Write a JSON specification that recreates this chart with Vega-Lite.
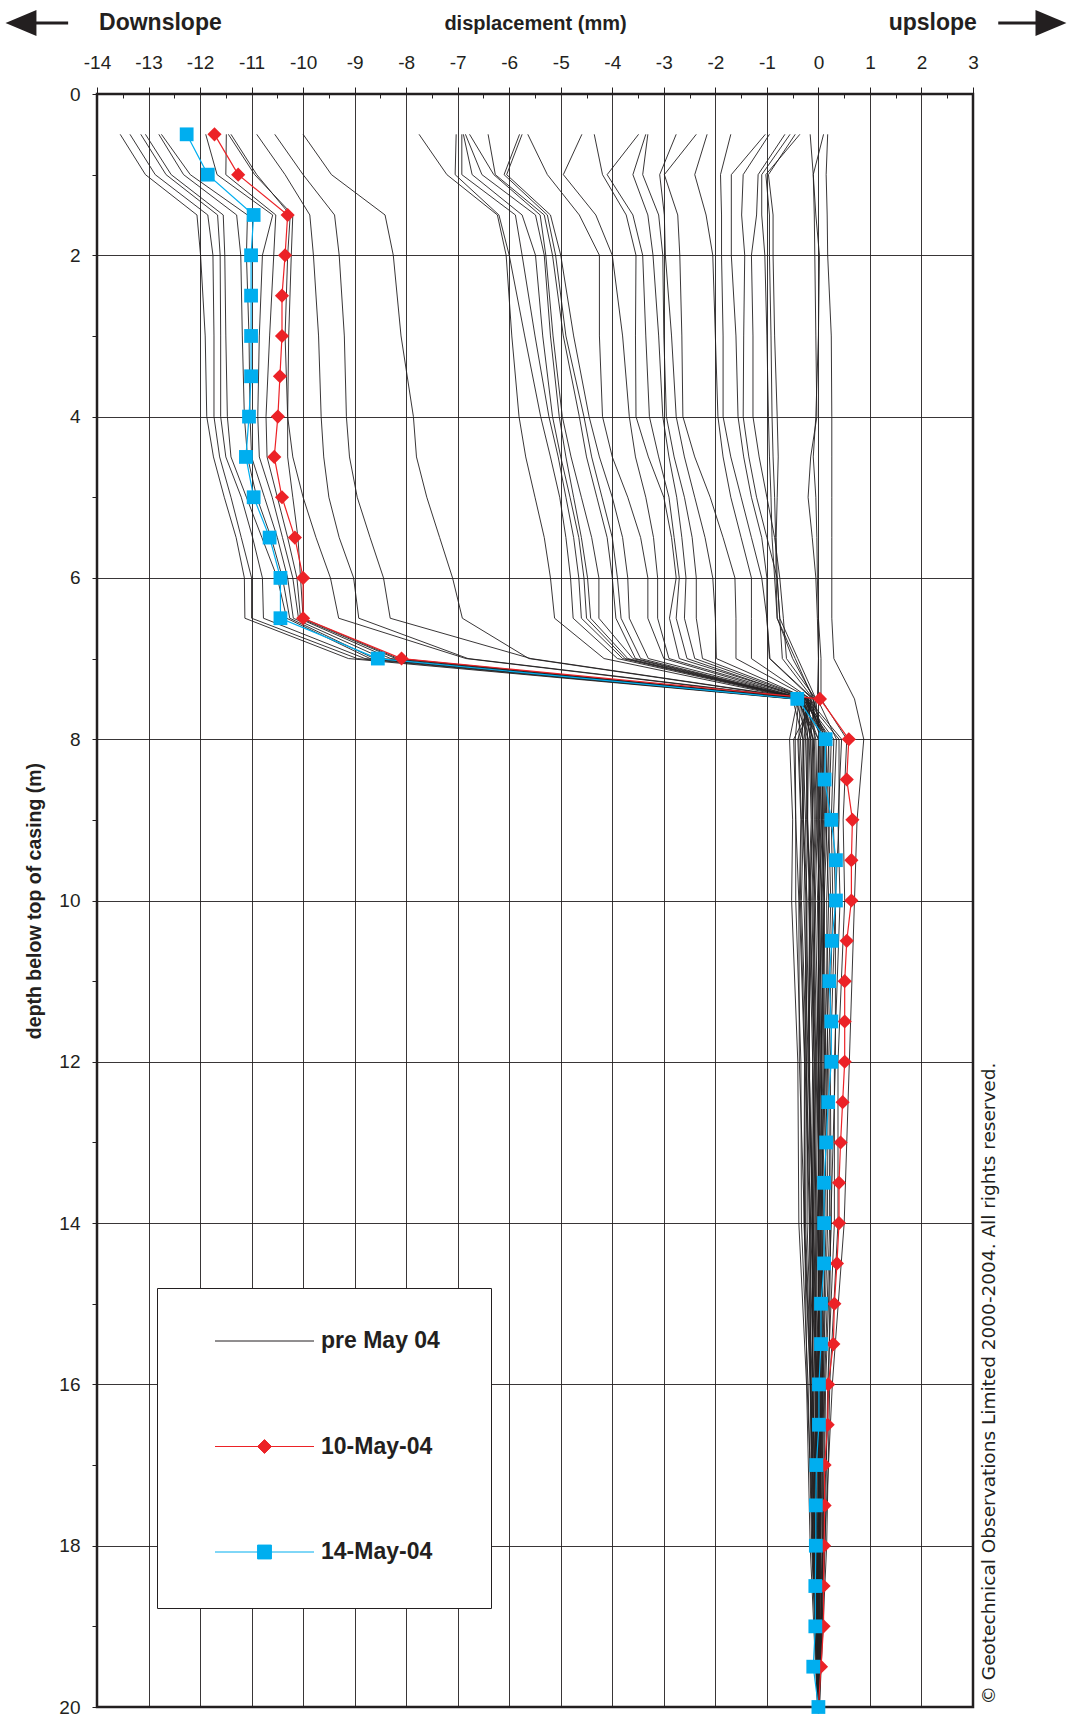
{
  "$schema": "https://vega.github.io/schema/vega-lite/v6.json",
  "width": 876,
  "height": 1613,
  "autosize": {"type": "none"},
  "padding": {"left": 97, "top": 94, "right": 97, "bottom": 10},
  "background": "white",
  "config": {
    "view": {"stroke": "#231f20", "strokeWidth": 2.5},
    "font": "Liberation Sans",
    "legend": {
      "padding": 3,
      "fillColor": "#ffffff", "strokeColor": "#231f20",
      "symbolSize": 9801, "symbolStrokeWidth": 1, "symbolOffset": 54.5, "symbolOpacity": 1,
      "labelOffset": 6.5, "rowPadding": 2.5,
      "labelFont": "Liberation Sans", "labelFontSize": 23, "labelFontWeight": "bold", "labelColor": "#231f20", "labelLimit": 300
    }
  },
  "datasets": {
    "pre": [
      {"run":1,"depth":0.5,"mm":-13.55},{"run":1,"depth":1,"mm":-13.06},{"run":1,"depth":1.5,"mm":-12.06},{"run":1,"depth":2,"mm":-11.99},{"run":1,"depth":3,"mm":-11.9},{"run":1,"depth":4,"mm":-11.87},{"run":1,"depth":4.5,"mm":-11.74},{"run":1,"depth":5,"mm":-11.53},{"run":1,"depth":5.5,"mm":-11.3},{"run":1,"depth":6,"mm":-11.14},{"run":1,"depth":6.5,"mm":-11.13},{"run":1,"depth":7,"mm":-9.12},{"run":1,"depth":7.5,"mm":-0.5},{"run":1,"depth":8,"mm":-0.3},{"run":1,"depth":9,"mm":-0.25},{"run":1,"depth":10,"mm":-0.28},{"run":1,"depth":12,"mm":-0.2},{"run":1,"depth":14,"mm":-0.22},{"run":1,"depth":16,"mm":-0.12},{"run":1,"depth":18,"mm":-0.09},{"run":1,"depth":20,"mm":-0.01},
      {"run":2,"depth":0.5,"mm":-13.36},{"run":2,"depth":1,"mm":-12.87},{"run":2,"depth":1.5,"mm":-11.85},{"run":2,"depth":2,"mm":-11.75},{"run":2,"depth":3,"mm":-11.73},{"run":2,"depth":4,"mm":-11.73},{"run":2,"depth":4.5,"mm":-11.62},{"run":2,"depth":5,"mm":-11.4},{"run":2,"depth":5.5,"mm":-11.2},{"run":2,"depth":6,"mm":-11.0},{"run":2,"depth":6.5,"mm":-11.0},{"run":2,"depth":7,"mm":-8.95},{"run":2,"depth":7.5,"mm":-0.45},{"run":2,"depth":8,"mm":-0.2},{"run":2,"depth":9,"mm":-0.21},{"run":2,"depth":10,"mm":-0.16},{"run":2,"depth":12,"mm":-0.18},{"run":2,"depth":14,"mm":-0.11},{"run":2,"depth":16,"mm":-0.11},{"run":2,"depth":18,"mm":-0.04},{"run":2,"depth":20,"mm":-0.01},
      {"run":3,"depth":0.5,"mm":-13.15},{"run":3,"depth":1,"mm":-12.66},{"run":3,"depth":1.5,"mm":-11.66},{"run":3,"depth":2,"mm":-11.61},{"run":3,"depth":3,"mm":-11.6},{"run":3,"depth":4,"mm":-11.6},{"run":3,"depth":4.5,"mm":-11.5},{"run":3,"depth":5,"mm":-11.2},{"run":3,"depth":5.5,"mm":-10.98},{"run":3,"depth":6,"mm":-10.79},{"run":3,"depth":6.5,"mm":-10.77},{"run":3,"depth":7,"mm":-8.8},{"run":3,"depth":7.5,"mm":-0.4},{"run":3,"depth":8,"mm":-0.1},{"run":3,"depth":9,"mm":-0.06},{"run":3,"depth":10,"mm":-0.11},{"run":3,"depth":12,"mm":-0.05},{"run":3,"depth":14,"mm":-0.09},{"run":3,"depth":16,"mm":-0.03},{"run":3,"depth":18,"mm":-0.04},{"run":3,"depth":20,"mm":0.0},
      {"run":4,"depth":0.5,"mm":-13.06},{"run":4,"depth":1,"mm":-12.56},{"run":4,"depth":1.5,"mm":-11.55},{"run":4,"depth":2,"mm":-11.52},{"run":4,"depth":3,"mm":-11.5},{"run":4,"depth":4,"mm":-11.47},{"run":4,"depth":4.5,"mm":-11.4},{"run":4,"depth":5,"mm":-11.1},{"run":4,"depth":5.5,"mm":-10.8},{"run":4,"depth":6,"mm":-10.5},{"run":4,"depth":6.5,"mm":-10.32},{"run":4,"depth":7,"mm":-8.7},{"run":4,"depth":7.5,"mm":-0.42},{"run":4,"depth":8,"mm":0.0},{"run":4,"depth":9,"mm":0.03},{"run":4,"depth":10,"mm":-0.02},{"run":4,"depth":12,"mm":0.03},{"run":4,"depth":14,"mm":-0.02},{"run":4,"depth":16,"mm":0.02},{"run":4,"depth":18,"mm":-0.01},{"run":4,"depth":20,"mm":0.0},
      {"run":5,"depth":0.5,"mm":-12.8},{"run":5,"depth":1,"mm":-12.32},{"run":5,"depth":1.5,"mm":-11.29},{"run":5,"depth":2,"mm":-11.21},{"run":5,"depth":3,"mm":-11.18},{"run":5,"depth":4,"mm":-11.14},{"run":5,"depth":4.5,"mm":-11.08},{"run":5,"depth":5,"mm":-10.9},{"run":5,"depth":5.5,"mm":-10.62},{"run":5,"depth":6,"mm":-10.4},{"run":5,"depth":6.5,"mm":-10.26},{"run":5,"depth":7,"mm":-8.62},{"run":5,"depth":7.5,"mm":-0.35},{"run":5,"depth":8,"mm":0.1},{"run":5,"depth":9,"mm":0.06},{"run":5,"depth":10,"mm":0.11},{"run":5,"depth":12,"mm":0.05},{"run":5,"depth":14,"mm":0.1},{"run":5,"depth":16,"mm":0.03},{"run":5,"depth":18,"mm":0.04},{"run":5,"depth":20,"mm":0.0},
      {"run":6,"depth":0.5,"mm":-12.75},{"run":6,"depth":1,"mm":-12.19},{"run":6,"depth":1.5,"mm":-11.08},{"run":6,"depth":2,"mm":-11.1},{"run":6,"depth":3,"mm":-11.05},{"run":6,"depth":4,"mm":-11.03},{"run":6,"depth":4.5,"mm":-11.0},{"run":6,"depth":5,"mm":-10.75},{"run":6,"depth":5.5,"mm":-10.5},{"run":6,"depth":6,"mm":-10.3},{"run":6,"depth":6.5,"mm":-10.19},{"run":6,"depth":7,"mm":-8.45},{"run":6,"depth":7.5,"mm":-0.3},{"run":6,"depth":8,"mm":0.2},{"run":6,"depth":9,"mm":0.21},{"run":6,"depth":10,"mm":0.16},{"run":6,"depth":12,"mm":0.18},{"run":6,"depth":14,"mm":0.11},{"run":6,"depth":16,"mm":0.11},{"run":6,"depth":18,"mm":0.04},{"run":6,"depth":20,"mm":0.01},
      {"run":7,"depth":0.5,"mm":-11.89},{"run":7,"depth":1,"mm":-11.67},{"run":7,"depth":1.5,"mm":-10.59},{"run":7,"depth":2,"mm":-10.79},{"run":7,"depth":3,"mm":-10.85},{"run":7,"depth":4,"mm":-10.88},{"run":7,"depth":4.5,"mm":-10.85},{"run":7,"depth":5,"mm":-10.6},{"run":7,"depth":5.5,"mm":-10.4},{"run":7,"depth":6,"mm":-10.2},{"run":7,"depth":6.5,"mm":-10.09},{"run":7,"depth":7,"mm":-8.3},{"run":7,"depth":7.5,"mm":-0.28},{"run":7,"depth":8,"mm":0.3},{"run":7,"depth":9,"mm":0.25},{"run":7,"depth":10,"mm":0.28},{"run":7,"depth":12,"mm":0.2},{"run":7,"depth":14,"mm":0.22},{"run":7,"depth":16,"mm":0.12},{"run":7,"depth":18,"mm":0.09},{"run":7,"depth":20,"mm":0.01},
      {"run":8,"depth":0.5,"mm":-11.49},{"run":8,"depth":1,"mm":-11.5},{"run":8,"depth":1.5,"mm":-10.53},{"run":8,"depth":2,"mm":-10.57},{"run":8,"depth":3,"mm":-10.65},{"run":8,"depth":4,"mm":-10.72},{"run":8,"depth":4.5,"mm":-10.7},{"run":8,"depth":5,"mm":-10.5},{"run":8,"depth":5.5,"mm":-10.3},{"run":8,"depth":6,"mm":-10.12},{"run":8,"depth":6.5,"mm":-10.05},{"run":8,"depth":7,"mm":-8.2},{"run":8,"depth":7.5,"mm":-0.25},{"run":8,"depth":8,"mm":0.4},{"run":8,"depth":9,"mm":0.4},{"run":8,"depth":10,"mm":0.33},{"run":8,"depth":12,"mm":0.33},{"run":8,"depth":14,"mm":0.24},{"run":8,"depth":16,"mm":0.2},{"run":8,"depth":18,"mm":0.09},{"run":8,"depth":20,"mm":0.01},
      {"run":9,"depth":0.5,"mm":-11.45},{"run":9,"depth":1,"mm":-10.94},{"run":9,"depth":1.5,"mm":-10.2},{"run":9,"depth":2,"mm":-10.23},{"run":9,"depth":3,"mm":-10.28},{"run":9,"depth":4,"mm":-10.3},{"run":9,"depth":4.5,"mm":-10.3},{"run":9,"depth":5,"mm":-10.2},{"run":9,"depth":5.5,"mm":-10.1},{"run":9,"depth":6,"mm":-10.05},{"run":9,"depth":6.5,"mm":-10.0},{"run":9,"depth":7,"mm":-8.15},{"run":9,"depth":7.5,"mm":-0.2},{"run":9,"depth":8,"mm":0.45},{"run":9,"depth":9,"mm":0.38},{"run":9,"depth":10,"mm":0.42},{"run":9,"depth":12,"mm":0.31},{"run":9,"depth":14,"mm":0.31},{"run":9,"depth":16,"mm":0.18},{"run":9,"depth":18,"mm":0.13},{"run":9,"depth":20,"mm":0.01},
      {"run":10,"depth":0.5,"mm":-10.9},{"run":10,"depth":1,"mm":-10.35},{"run":10,"depth":1.5,"mm":-9.87},{"run":10,"depth":2,"mm":-9.8},{"run":10,"depth":3,"mm":-9.7},{"run":10,"depth":4,"mm":-9.65},{"run":10,"depth":4.5,"mm":-9.6},{"run":10,"depth":5,"mm":-9.5},{"run":10,"depth":5.5,"mm":-9.3},{"run":10,"depth":6,"mm":-9.02},{"run":10,"depth":6.5,"mm":-8.92},{"run":10,"depth":7,"mm":-6.8},{"run":10,"depth":7.5,"mm":-0.22},{"run":10,"depth":8,"mm":0.2},{"run":10,"depth":9,"mm":0.15},{"run":10,"depth":10,"mm":0.2},{"run":10,"depth":12,"mm":0.12},{"run":10,"depth":14,"mm":0.15},{"run":10,"depth":16,"mm":0.07},{"run":10,"depth":18,"mm":0.07},{"run":10,"depth":20,"mm":0.01},
      {"run":11,"depth":0.5,"mm":-10.55},{"run":11,"depth":1,"mm":-10.0},{"run":11,"depth":1.5,"mm":-9.39},{"run":11,"depth":2,"mm":-9.3},{"run":11,"depth":3,"mm":-9.2},{"run":11,"depth":4,"mm":-9.16},{"run":11,"depth":4.5,"mm":-9.1},{"run":11,"depth":5,"mm":-8.95},{"run":11,"depth":5.5,"mm":-8.7},{"run":11,"depth":6,"mm":-8.44},{"run":11,"depth":6.5,"mm":-8.31},{"run":11,"depth":7,"mm":-5.58},{"run":11,"depth":7.5,"mm":-0.25},{"run":11,"depth":8,"mm":0.1},{"run":11,"depth":9,"mm":0.12},{"run":11,"depth":10,"mm":0.07},{"run":11,"depth":12,"mm":0.11},{"run":11,"depth":14,"mm":0.05},{"run":11,"depth":16,"mm":0.07},{"run":11,"depth":18,"mm":0.02},{"run":11,"depth":20,"mm":0.0},
      {"run":12,"depth":0.5,"mm":-11.4},{"run":12,"depth":1,"mm":-10.9},{"run":12,"depth":1.5,"mm":-10.25},{"run":12,"depth":2,"mm":-10.3},{"run":12,"depth":3,"mm":-10.35},{"run":12,"depth":4,"mm":-10.3},{"run":12,"depth":4.5,"mm":-10.2},{"run":12,"depth":5,"mm":-10.0},{"run":12,"depth":5.5,"mm":-9.75},{"run":12,"depth":6,"mm":-9.47},{"run":12,"depth":6.5,"mm":-9.31},{"run":12,"depth":7,"mm":-6.84},{"run":12,"depth":7.5,"mm":-0.3},{"run":12,"depth":8,"mm":0.25},{"run":12,"depth":9,"mm":0.2},{"run":12,"depth":10,"mm":0.24},{"run":12,"depth":12,"mm":0.16},{"run":12,"depth":14,"mm":0.18},{"run":12,"depth":16,"mm":0.09},{"run":12,"depth":18,"mm":0.08},{"run":12,"depth":20,"mm":0.01},
      {"run":13,"depth":0.5,"mm":-10.0},{"run":13,"depth":1,"mm":-9.45},{"run":13,"depth":1.5,"mm":-8.41},{"run":13,"depth":2,"mm":-8.25},{"run":13,"depth":3,"mm":-8.1},{"run":13,"depth":4,"mm":-7.86},{"run":13,"depth":4.5,"mm":-7.8},{"run":13,"depth":5,"mm":-7.6},{"run":13,"depth":5.5,"mm":-7.35},{"run":13,"depth":6,"mm":-7.1},{"run":13,"depth":6.5,"mm":-6.91},{"run":13,"depth":7,"mm":-5.62},{"run":13,"depth":7.5,"mm":-0.3},{"run":13,"depth":8,"mm":-0.15},{"run":13,"depth":9,"mm":-0.11},{"run":13,"depth":10,"mm":-0.16},{"run":13,"depth":12,"mm":-0.08},{"run":13,"depth":14,"mm":-0.13},{"run":13,"depth":16,"mm":-0.05},{"run":13,"depth":18,"mm":-0.06},{"run":13,"depth":20,"mm":0.0},
      {"run":14,"depth":0.5,"mm":-7.75},{"run":14,"depth":1,"mm":-7.21},{"run":14,"depth":1.5,"mm":-6.23},{"run":14,"depth":2,"mm":-6.06},{"run":14,"depth":3,"mm":-5.95},{"run":14,"depth":4,"mm":-5.81},{"run":14,"depth":4.5,"mm":-5.68},{"run":14,"depth":5,"mm":-5.5},{"run":14,"depth":5.5,"mm":-5.32},{"run":14,"depth":6,"mm":-5.2},{"run":14,"depth":6.5,"mm":-5.12},{"run":14,"depth":7,"mm":-4.16},{"run":14,"depth":7.5,"mm":-0.4},{"run":14,"depth":8,"mm":-0.56},{"run":14,"depth":9,"mm":-0.5},{"run":14,"depth":10,"mm":-0.52},{"run":14,"depth":12,"mm":-0.4},{"run":14,"depth":14,"mm":-0.38},{"run":14,"depth":16,"mm":-0.23},{"run":14,"depth":18,"mm":-0.16},{"run":14,"depth":20,"mm":-0.02},
      {"run":15,"depth":0.5,"mm":-7.03},{"run":15,"depth":1,"mm":-7.05},{"run":15,"depth":1.5,"mm":-6.2},{"run":15,"depth":2,"mm":-6.0},{"run":15,"depth":3,"mm":-5.7},{"run":15,"depth":4,"mm":-5.39},{"run":15,"depth":4.5,"mm":-5.2},{"run":15,"depth":5,"mm":-5.02},{"run":15,"depth":5.5,"mm":-4.9},{"run":15,"depth":6,"mm":-4.81},{"run":15,"depth":6.5,"mm":-4.76},{"run":15,"depth":7,"mm":-3.9},{"run":15,"depth":7.5,"mm":-0.38},{"run":15,"depth":8,"mm":-0.45},{"run":15,"depth":9,"mm":-0.44},{"run":15,"depth":10,"mm":-0.38},{"run":15,"depth":12,"mm":-0.37},{"run":15,"depth":14,"mm":-0.27},{"run":15,"depth":16,"mm":-0.22},{"run":15,"depth":18,"mm":-0.1},{"run":15,"depth":20,"mm":-0.01},
      {"run":16,"depth":0.5,"mm":-6.92},{"run":16,"depth":1,"mm":-6.92},{"run":16,"depth":1.5,"mm":-5.88},{"run":16,"depth":2,"mm":-5.75},{"run":16,"depth":3,"mm":-5.5},{"run":16,"depth":4,"mm":-5.23},{"run":16,"depth":4.5,"mm":-5.05},{"run":16,"depth":5,"mm":-4.9},{"run":16,"depth":5.5,"mm":-4.75},{"run":16,"depth":6,"mm":-4.65},{"run":16,"depth":6.5,"mm":-4.6},{"run":16,"depth":7,"mm":-3.8},{"run":16,"depth":7.5,"mm":-0.35},{"run":16,"depth":8,"mm":-0.38},{"run":16,"depth":9,"mm":-0.33},{"run":16,"depth":10,"mm":-0.35},{"run":16,"depth":12,"mm":-0.26},{"run":16,"depth":14,"mm":-0.27},{"run":16,"depth":16,"mm":-0.15},{"run":16,"depth":18,"mm":-0.11},{"run":16,"depth":20,"mm":-0.01},
      {"run":17,"depth":0.5,"mm":-6.89},{"run":17,"depth":1,"mm":-6.72},{"run":17,"depth":1.5,"mm":-5.75},{"run":17,"depth":2,"mm":-5.49},{"run":17,"depth":3,"mm":-5.35},{"run":17,"depth":4,"mm":-5.16},{"run":17,"depth":4.5,"mm":-5.0},{"run":17,"depth":5,"mm":-4.82},{"run":17,"depth":5.5,"mm":-4.65},{"run":17,"depth":6,"mm":-4.55},{"run":17,"depth":6.5,"mm":-4.5},{"run":17,"depth":7,"mm":-3.75},{"run":17,"depth":7.5,"mm":-0.33},{"run":17,"depth":8,"mm":-0.3},{"run":17,"depth":9,"mm":-0.31},{"run":17,"depth":10,"mm":-0.24},{"run":17,"depth":12,"mm":-0.26},{"run":17,"depth":14,"mm":-0.17},{"run":17,"depth":16,"mm":-0.16},{"run":17,"depth":18,"mm":-0.07},{"run":17,"depth":20,"mm":-0.01},
      {"run":18,"depth":0.5,"mm":-6.85},{"run":18,"depth":1,"mm":-6.53},{"run":18,"depth":1.5,"mm":-5.49},{"run":18,"depth":2,"mm":-5.32},{"run":18,"depth":3,"mm":-5.2},{"run":18,"depth":4,"mm":-5.03},{"run":18,"depth":4.5,"mm":-4.9},{"run":18,"depth":5,"mm":-4.75},{"run":18,"depth":5.5,"mm":-4.6},{"run":18,"depth":6,"mm":-4.48},{"run":18,"depth":6.5,"mm":-4.42},{"run":18,"depth":7,"mm":-3.7},{"run":18,"depth":7.5,"mm":-0.3},{"run":18,"depth":8,"mm":-0.25},{"run":18,"depth":9,"mm":-0.21},{"run":18,"depth":10,"mm":-0.24},{"run":18,"depth":12,"mm":-0.17},{"run":18,"depth":14,"mm":-0.18},{"run":18,"depth":16,"mm":-0.09},{"run":18,"depth":18,"mm":-0.08},{"run":18,"depth":20,"mm":-0.01},
      {"run":19,"depth":0.5,"mm":-6.77},{"run":19,"depth":1,"mm":-6.3},{"run":19,"depth":1.5,"mm":-5.4},{"run":19,"depth":2,"mm":-5.29},{"run":19,"depth":3,"mm":-5.15},{"run":19,"depth":4,"mm":-4.97},{"run":19,"depth":4.5,"mm":-4.8},{"run":19,"depth":5,"mm":-4.6},{"run":19,"depth":5.5,"mm":-4.4},{"run":19,"depth":6,"mm":-4.26},{"run":19,"depth":6.5,"mm":-4.26},{"run":19,"depth":7,"mm":-3.6},{"run":19,"depth":7.5,"mm":-0.32},{"run":19,"depth":8,"mm":-0.2},{"run":19,"depth":9,"mm":-0.21},{"run":19,"depth":10,"mm":-0.16},{"run":19,"depth":12,"mm":-0.18},{"run":19,"depth":14,"mm":-0.11},{"run":19,"depth":16,"mm":-0.11},{"run":19,"depth":18,"mm":-0.04},{"run":19,"depth":20,"mm":-0.01},
      {"run":20,"depth":0.5,"mm":-6.41},{"run":20,"depth":1,"mm":-6.27},{"run":20,"depth":1.5,"mm":-5.32},{"run":20,"depth":2,"mm":-5.16},{"run":20,"depth":3,"mm":-4.95},{"run":20,"depth":4,"mm":-4.64},{"run":20,"depth":4.5,"mm":-4.5},{"run":20,"depth":5,"mm":-4.3},{"run":20,"depth":5.5,"mm":-4.1},{"run":20,"depth":6,"mm":-4.0},{"run":20,"depth":6.5,"mm":-3.93},{"run":20,"depth":7,"mm":-3.55},{"run":20,"depth":7.5,"mm":-0.28},{"run":20,"depth":8,"mm":-0.15},{"run":20,"depth":9,"mm":-0.12},{"run":20,"depth":10,"mm":-0.17},{"run":20,"depth":12,"mm":-0.08},{"run":20,"depth":14,"mm":-0.12},{"run":20,"depth":16,"mm":-0.04},{"run":20,"depth":18,"mm":-0.06},{"run":20,"depth":20,"mm":0.0},
      {"run":21,"depth":0.5,"mm":-5.8},{"run":21,"depth":1,"mm":-6.1},{"run":21,"depth":1.5,"mm":-5.26},{"run":21,"depth":2,"mm":-5.1},{"run":21,"depth":3,"mm":-4.9},{"run":21,"depth":4,"mm":-4.55},{"run":21,"depth":4.5,"mm":-4.4},{"run":21,"depth":5,"mm":-4.2},{"run":21,"depth":5.5,"mm":-4.0},{"run":21,"depth":6,"mm":-3.9},{"run":21,"depth":6.5,"mm":-3.83},{"run":21,"depth":7,"mm":-3.45},{"run":21,"depth":7.5,"mm":-0.3},{"run":21,"depth":8,"mm":-0.1},{"run":21,"depth":9,"mm":-0.12},{"run":21,"depth":10,"mm":-0.07},{"run":21,"depth":12,"mm":-0.11},{"run":21,"depth":14,"mm":-0.04},{"run":21,"depth":16,"mm":-0.07},{"run":21,"depth":18,"mm":-0.02},{"run":21,"depth":20,"mm":0.0},
      {"run":22,"depth":0.5,"mm":-5.75},{"run":22,"depth":1,"mm":-6.05},{"run":22,"depth":1.5,"mm":-5.2},{"run":22,"depth":2,"mm":-5.0},{"run":22,"depth":3,"mm":-4.75},{"run":22,"depth":4,"mm":-4.45},{"run":22,"depth":4.5,"mm":-4.25},{"run":22,"depth":5,"mm":-4.0},{"run":22,"depth":5.5,"mm":-3.8},{"run":22,"depth":6,"mm":-3.7},{"run":22,"depth":6.5,"mm":-3.67},{"run":22,"depth":7,"mm":-3.3},{"run":22,"depth":7.5,"mm":-0.25},{"run":22,"depth":8,"mm":-0.05},{"run":22,"depth":9,"mm":-0.02},{"run":22,"depth":10,"mm":-0.06},{"run":22,"depth":12,"mm":0.0},{"run":22,"depth":14,"mm":-0.05},{"run":22,"depth":16,"mm":0.0},{"run":22,"depth":18,"mm":-0.02},{"run":22,"depth":20,"mm":0.0},
      {"run":23,"depth":0.5,"mm":-5.64},{"run":23,"depth":1,"mm":-5.26},{"run":23,"depth":1.5,"mm":-4.64},{"run":23,"depth":2,"mm":-4.25},{"run":23,"depth":3,"mm":-4.25},{"run":23,"depth":4,"mm":-4.19},{"run":23,"depth":4.5,"mm":-4.0},{"run":23,"depth":5,"mm":-3.7},{"run":23,"depth":5.5,"mm":-3.45},{"run":23,"depth":6,"mm":-3.31},{"run":23,"depth":6.5,"mm":-3.31},{"run":23,"depth":7,"mm":-3.0},{"run":23,"depth":7.5,"mm":-0.3},{"run":23,"depth":8,"mm":0.0},{"run":23,"depth":9,"mm":-0.03},{"run":23,"depth":10,"mm":0.02},{"run":23,"depth":12,"mm":-0.03},{"run":23,"depth":14,"mm":0.03},{"run":23,"depth":16,"mm":-0.02},{"run":23,"depth":18,"mm":0.01},{"run":23,"depth":20,"mm":0.0},
      {"run":24,"depth":0.5,"mm":-4.59},{"run":24,"depth":1,"mm":-4.95},{"run":24,"depth":1.5,"mm":-4.32},{"run":24,"depth":2,"mm":-4.0},{"run":24,"depth":3,"mm":-3.8},{"run":24,"depth":4,"mm":-3.67},{"run":24,"depth":4.5,"mm":-3.55},{"run":24,"depth":5,"mm":-3.35},{"run":24,"depth":5.5,"mm":-3.2},{"run":24,"depth":6,"mm":-3.12},{"run":24,"depth":6.5,"mm":-3.12},{"run":24,"depth":7,"mm":-2.9},{"run":24,"depth":7.5,"mm":-0.22},{"run":24,"depth":8,"mm":0.05},{"run":24,"depth":9,"mm":0.08},{"run":24,"depth":10,"mm":0.02},{"run":24,"depth":12,"mm":0.07},{"run":24,"depth":14,"mm":0.01},{"run":24,"depth":16,"mm":0.05},{"run":24,"depth":18,"mm":0.0},{"run":24,"depth":20,"mm":0.0},
      {"run":25,"depth":0.5,"mm":-4.35},{"run":25,"depth":1,"mm":-4.19},{"run":25,"depth":1.5,"mm":-3.73},{"run":25,"depth":2,"mm":-3.54},{"run":25,"depth":3,"mm":-3.55},{"run":25,"depth":4,"mm":-3.54},{"run":25,"depth":4.5,"mm":-3.3},{"run":25,"depth":5,"mm":-3.0},{"run":25,"depth":5.5,"mm":-2.85},{"run":25,"depth":6,"mm":-2.76},{"run":25,"depth":6.5,"mm":-2.89},{"run":25,"depth":7,"mm":-2.7},{"run":25,"depth":7.5,"mm":-0.2},{"run":25,"depth":8,"mm":0.1},{"run":25,"depth":9,"mm":0.07},{"run":25,"depth":10,"mm":0.12},{"run":25,"depth":12,"mm":0.05},{"run":25,"depth":14,"mm":0.09},{"run":25,"depth":16,"mm":0.03},{"run":25,"depth":18,"mm":0.05},{"run":25,"depth":20,"mm":0.0},
      {"run":26,"depth":0.5,"mm":-3.49},{"run":26,"depth":1,"mm":-4.1},{"run":26,"depth":1.5,"mm":-3.6},{"run":26,"depth":2,"mm":-3.41},{"run":26,"depth":3,"mm":-3.35},{"run":26,"depth":4,"mm":-3.28},{"run":26,"depth":4.5,"mm":-3.1},{"run":26,"depth":5,"mm":-2.9},{"run":26,"depth":5.5,"mm":-2.8},{"run":26,"depth":6,"mm":-2.7},{"run":26,"depth":6.5,"mm":-2.76},{"run":26,"depth":7,"mm":-2.55},{"run":26,"depth":7.5,"mm":-0.25},{"run":26,"depth":8,"mm":0.15},{"run":26,"depth":9,"mm":0.17},{"run":26,"depth":10,"mm":0.11},{"run":26,"depth":12,"mm":0.14},{"run":26,"depth":14,"mm":0.07},{"run":26,"depth":16,"mm":0.09},{"run":26,"depth":18,"mm":0.02},{"run":26,"depth":20,"mm":0.0},
      {"run":27,"depth":0.5,"mm":-3.35},{"run":27,"depth":1,"mm":-3.6},{"run":27,"depth":1.5,"mm":-3.31},{"run":27,"depth":2,"mm":-3.21},{"run":27,"depth":3,"mm":-3.1},{"run":27,"depth":4,"mm":-3.02},{"run":27,"depth":4.5,"mm":-2.9},{"run":27,"depth":5,"mm":-2.75},{"run":27,"depth":5.5,"mm":-2.65},{"run":27,"depth":6,"mm":-2.57},{"run":27,"depth":6.5,"mm":-2.6},{"run":27,"depth":7,"mm":-2.4},{"run":27,"depth":7.5,"mm":-0.2},{"run":27,"depth":8,"mm":-0.35},{"run":27,"depth":9,"mm":-0.29},{"run":27,"depth":10,"mm":-0.33},{"run":27,"depth":12,"mm":-0.23},{"run":27,"depth":14,"mm":-0.25},{"run":27,"depth":16,"mm":-0.14},{"run":27,"depth":18,"mm":-0.1},{"run":27,"depth":20,"mm":-0.01},
      {"run":28,"depth":0.5,"mm":-3.31},{"run":28,"depth":1,"mm":-3.41},{"run":28,"depth":1.5,"mm":-3.1},{"run":28,"depth":2,"mm":-3.02},{"run":28,"depth":3,"mm":-3.0},{"run":28,"depth":4,"mm":-2.95},{"run":28,"depth":4.5,"mm":-2.8},{"run":28,"depth":5,"mm":-2.6},{"run":28,"depth":5.5,"mm":-2.45},{"run":28,"depth":6,"mm":-2.37},{"run":28,"depth":6.5,"mm":-2.37},{"run":28,"depth":7,"mm":-2.25},{"run":28,"depth":7.5,"mm":-0.18},{"run":28,"depth":8,"mm":-0.28},{"run":28,"depth":9,"mm":-0.29},{"run":28,"depth":10,"mm":-0.22},{"run":28,"depth":12,"mm":-0.24},{"run":28,"depth":14,"mm":-0.15},{"run":28,"depth":16,"mm":-0.15},{"run":28,"depth":18,"mm":-0.06},{"run":28,"depth":20,"mm":-0.01},
      {"run":29,"depth":0.5,"mm":-2.76},{"run":29,"depth":1,"mm":-3.08},{"run":29,"depth":1.5,"mm":-2.99},{"run":29,"depth":2,"mm":-2.97},{"run":29,"depth":3,"mm":-2.85},{"run":29,"depth":4,"mm":-2.76},{"run":29,"depth":4.5,"mm":-2.6},{"run":29,"depth":5,"mm":-2.4},{"run":29,"depth":5.5,"mm":-2.2},{"run":29,"depth":6,"mm":-2.05},{"run":29,"depth":6.5,"mm":-2.0},{"run":29,"depth":7,"mm":-1.98},{"run":29,"depth":7.5,"mm":-0.2},{"run":29,"depth":8,"mm":-0.12},{"run":29,"depth":9,"mm":-0.08},{"run":29,"depth":10,"mm":-0.13},{"run":29,"depth":12,"mm":-0.06},{"run":29,"depth":14,"mm":-0.1},{"run":29,"depth":16,"mm":-0.03},{"run":29,"depth":18,"mm":-0.05},{"run":29,"depth":20,"mm":0.0},
      {"run":30,"depth":0.5,"mm":-2.37},{"run":30,"depth":1,"mm":-2.99},{"run":30,"depth":1.5,"mm":-2.73},{"run":30,"depth":2,"mm":-2.69},{"run":30,"depth":3,"mm":-2.65},{"run":30,"depth":4,"mm":-2.63},{"run":30,"depth":4.5,"mm":-2.4},{"run":30,"depth":5,"mm":-2.1},{"run":30,"depth":5.5,"mm":-1.85},{"run":30,"depth":6,"mm":-1.62},{"run":30,"depth":6.5,"mm":-1.6},{"run":30,"depth":7,"mm":-1.6},{"run":30,"depth":7.5,"mm":-0.15},{"run":30,"depth":8,"mm":0.05},{"run":30,"depth":9,"mm":0.02},{"run":30,"depth":10,"mm":0.06},{"run":30,"depth":12,"mm":0.01},{"run":30,"depth":14,"mm":0.05},{"run":30,"depth":16,"mm":0.0},{"run":30,"depth":18,"mm":0.02},{"run":30,"depth":20,"mm":0.0},
      {"run":31,"depth":0.5,"mm":-2.16},{"run":31,"depth":1,"mm":-2.4},{"run":31,"depth":1.5,"mm":-2.18},{"run":31,"depth":2,"mm":-2.05},{"run":31,"depth":3,"mm":-2.0},{"run":31,"depth":4,"mm":-1.95},{"run":31,"depth":4.5,"mm":-1.85},{"run":31,"depth":5,"mm":-1.7},{"run":31,"depth":5.5,"mm":-1.5},{"run":31,"depth":6,"mm":-1.3},{"run":31,"depth":6.5,"mm":-1.3},{"run":31,"depth":7,"mm":-1.3},{"run":31,"depth":7.5,"mm":-0.15},{"run":31,"depth":8,"mm":-0.22},{"run":31,"depth":9,"mm":-0.23},{"run":31,"depth":10,"mm":-0.17},{"run":31,"depth":12,"mm":-0.2},{"run":31,"depth":14,"mm":-0.11},{"run":31,"depth":16,"mm":-0.12},{"run":31,"depth":18,"mm":-0.04},{"run":31,"depth":20,"mm":-0.01},
      {"run":32,"depth":0.5,"mm":-1.7},{"run":32,"depth":1,"mm":-1.9},{"run":32,"depth":1.5,"mm":-1.88},{"run":32,"depth":2,"mm":-1.88},{"run":32,"depth":3,"mm":-1.85},{"run":32,"depth":4,"mm":-1.85},{"run":32,"depth":4.5,"mm":-1.7},{"run":32,"depth":5,"mm":-1.5},{"run":32,"depth":5.5,"mm":-1.3},{"run":32,"depth":6,"mm":-1.1},{"run":32,"depth":6.5,"mm":-1.0},{"run":32,"depth":7,"mm":-0.95},{"run":32,"depth":7.5,"mm":-0.12},{"run":32,"depth":8,"mm":-0.4},{"run":32,"depth":9,"mm":-0.34},{"run":32,"depth":10,"mm":-0.37},{"run":32,"depth":12,"mm":-0.27},{"run":32,"depth":14,"mm":-0.28},{"run":32,"depth":16,"mm":-0.16},{"run":32,"depth":18,"mm":-0.12},{"run":32,"depth":20,"mm":-0.01},
      {"run":33,"depth":0.5,"mm":-1.03},{"run":33,"depth":1,"mm":-1.69},{"run":33,"depth":1.5,"mm":-1.69},{"run":33,"depth":2,"mm":-1.69},{"run":33,"depth":3,"mm":-1.6},{"run":33,"depth":4,"mm":-1.56},{"run":33,"depth":4.5,"mm":-1.45},{"run":33,"depth":5,"mm":-1.3},{"run":33,"depth":5.5,"mm":-1.1},{"run":33,"depth":6,"mm":-1.0},{"run":33,"depth":6.5,"mm":-1.0},{"run":33,"depth":7,"mm":-0.94},{"run":33,"depth":7.5,"mm":-0.1},{"run":33,"depth":8,"mm":0.12},{"run":33,"depth":9,"mm":0.14},{"run":33,"depth":10,"mm":0.09},{"run":33,"depth":12,"mm":0.12},{"run":33,"depth":14,"mm":0.05},{"run":33,"depth":16,"mm":0.08},{"run":33,"depth":18,"mm":0.01},{"run":33,"depth":20,"mm":0.0},
      {"run":34,"depth":0.5,"mm":-0.95},{"run":34,"depth":1,"mm":-1.46},{"run":34,"depth":1.5,"mm":-1.49},{"run":34,"depth":2,"mm":-1.43},{"run":34,"depth":3,"mm":-1.45},{"run":34,"depth":4,"mm":-1.46},{"run":34,"depth":4.5,"mm":-1.35},{"run":34,"depth":5,"mm":-1.2},{"run":34,"depth":5.5,"mm":-1.0},{"run":34,"depth":6,"mm":-0.8},{"run":34,"depth":6.5,"mm":-0.75},{"run":34,"depth":7,"mm":-0.7},{"run":34,"depth":7.5,"mm":-0.1},{"run":34,"depth":8,"mm":-0.08},{"run":34,"depth":9,"mm":-0.04},{"run":34,"depth":10,"mm":-0.09},{"run":34,"depth":12,"mm":-0.03},{"run":34,"depth":14,"mm":-0.07},{"run":34,"depth":16,"mm":-0.01},{"run":34,"depth":18,"mm":-0.04},{"run":34,"depth":20,"mm":0.0},
      {"run":35,"depth":0.5,"mm":-0.65},{"run":35,"depth":1,"mm":-1.17},{"run":35,"depth":1.5,"mm":-1.2},{"run":35,"depth":2,"mm":-1.3},{"run":35,"depth":3,"mm":-1.27},{"run":35,"depth":4,"mm":-1.27},{"run":35,"depth":4.5,"mm":-1.15},{"run":35,"depth":5,"mm":-1.0},{"run":35,"depth":5.5,"mm":-0.85},{"run":35,"depth":6,"mm":-0.75},{"run":35,"depth":6.5,"mm":-0.68},{"run":35,"depth":7,"mm":-0.62},{"run":35,"depth":7.5,"mm":-0.05},{"run":35,"depth":8,"mm":0.02},{"run":35,"depth":9,"mm":0.05},{"run":35,"depth":10,"mm":0.0},{"run":35,"depth":12,"mm":0.05},{"run":35,"depth":14,"mm":-0.01},{"run":35,"depth":16,"mm":0.03},{"run":35,"depth":18,"mm":0.0},{"run":35,"depth":20,"mm":0.0},
      {"run":36,"depth":0.5,"mm":-0.55},{"run":36,"depth":1,"mm":-1.1},{"run":36,"depth":1.5,"mm":-1.1},{"run":36,"depth":2,"mm":-1.04},{"run":36,"depth":3,"mm":-1.0},{"run":36,"depth":4,"mm":-0.97},{"run":36,"depth":4.5,"mm":-0.95},{"run":36,"depth":5,"mm":-0.92},{"run":36,"depth":5.5,"mm":-0.9},{"run":36,"depth":6,"mm":-0.85},{"run":36,"depth":6.5,"mm":-0.8},{"run":36,"depth":7,"mm":-0.5},{"run":36,"depth":7.5,"mm":-0.08},{"run":36,"depth":8,"mm":-0.48},{"run":36,"depth":9,"mm":-0.44},{"run":36,"depth":10,"mm":-0.44},{"run":36,"depth":12,"mm":-0.34},{"run":36,"depth":14,"mm":-0.33},{"run":36,"depth":16,"mm":-0.2},{"run":36,"depth":18,"mm":-0.13},{"run":36,"depth":20,"mm":-0.01},
      {"run":37,"depth":0.5,"mm":-0.45},{"run":37,"depth":1,"mm":-0.97},{"run":37,"depth":1.5,"mm":-0.88},{"run":37,"depth":2,"mm":-0.88},{"run":37,"depth":3,"mm":-0.85},{"run":37,"depth":4,"mm":-0.8},{"run":37,"depth":4.5,"mm":-0.78},{"run":37,"depth":5,"mm":-0.8},{"run":37,"depth":5.5,"mm":-0.82},{"run":37,"depth":6,"mm":-0.8},{"run":37,"depth":6.5,"mm":-0.75},{"run":37,"depth":7,"mm":-0.4},{"run":37,"depth":7.5,"mm":-0.05},{"run":37,"depth":8,"mm":-0.18},{"run":37,"depth":9,"mm":-0.14},{"run":37,"depth":10,"mm":-0.19},{"run":37,"depth":12,"mm":-0.11},{"run":37,"depth":14,"mm":-0.15},{"run":37,"depth":16,"mm":-0.06},{"run":37,"depth":18,"mm":-0.07},{"run":37,"depth":20,"mm":0.0},
      {"run":38,"depth":0.5,"mm":-0.36},{"run":38,"depth":1,"mm":-1.02},{"run":38,"depth":1.5,"mm":-0.95},{"run":38,"depth":2,"mm":-0.95},{"run":38,"depth":3,"mm":-0.92},{"run":38,"depth":4,"mm":-0.9},{"run":38,"depth":4.5,"mm":-0.88},{"run":38,"depth":5,"mm":-0.85},{"run":38,"depth":5.5,"mm":-0.83},{"run":38,"depth":6,"mm":-0.82},{"run":38,"depth":6.5,"mm":-0.8},{"run":38,"depth":7,"mm":-0.45},{"run":38,"depth":7.5,"mm":-0.1},{"run":38,"depth":8,"mm":0.08},{"run":38,"depth":9,"mm":0.1},{"run":38,"depth":10,"mm":0.05},{"run":38,"depth":12,"mm":0.09},{"run":38,"depth":14,"mm":0.03},{"run":38,"depth":16,"mm":0.06},{"run":38,"depth":18,"mm":0.0},{"run":38,"depth":20,"mm":0.0},
      {"run":39,"depth":0.5,"mm":-0.16},{"run":39,"depth":1,"mm":-0.1},{"run":39,"depth":1.5,"mm":-0.08},{"run":39,"depth":2,"mm":-0.07},{"run":39,"depth":3,"mm":-0.05},{"run":39,"depth":4,"mm":-0.03},{"run":39,"depth":4.5,"mm":-0.15},{"run":39,"depth":5,"mm":-0.2},{"run":39,"depth":5.5,"mm":-0.12},{"run":39,"depth":6,"mm":-0.05},{"run":39,"depth":6.5,"mm":-0.02},{"run":39,"depth":7,"mm":0.0},{"run":39,"depth":7.5,"mm":-0.02},{"run":39,"depth":8,"mm":0.35},{"run":39,"depth":9,"mm":0.29},{"run":39,"depth":10,"mm":0.33},{"run":39,"depth":12,"mm":0.23},{"run":39,"depth":14,"mm":0.25},{"run":39,"depth":16,"mm":0.14},{"run":39,"depth":18,"mm":0.1},{"run":39,"depth":20,"mm":0.01},
      {"run":40,"depth":0.5,"mm":0.1},{"run":40,"depth":1,"mm":-0.1},{"run":40,"depth":1.5,"mm":-0.05},{"run":40,"depth":2,"mm":0.02},{"run":40,"depth":3,"mm":0.0},{"run":40,"depth":4,"mm":-0.05},{"run":40,"depth":4.5,"mm":-0.1},{"run":40,"depth":5,"mm":-0.05},{"run":40,"depth":5.5,"mm":-0.03},{"run":40,"depth":6,"mm":-0.02},{"run":40,"depth":6.5,"mm":0.0},{"run":40,"depth":7,"mm":0.05},{"run":40,"depth":7.5,"mm":0.05},{"run":40,"depth":8,"mm":0.55},{"run":40,"depth":9,"mm":0.48},{"run":40,"depth":10,"mm":0.51},{"run":40,"depth":12,"mm":0.38},{"run":40,"depth":14,"mm":0.38},{"run":40,"depth":16,"mm":0.22},{"run":40,"depth":18,"mm":0.16},{"run":40,"depth":20,"mm":0.02},
      {"run":41,"depth":0.5,"mm":0.18},{"run":41,"depth":1,"mm":0.15},{"run":41,"depth":1.5,"mm":0.17},{"run":41,"depth":2,"mm":0.18},{"run":41,"depth":3,"mm":0.25},{"run":41,"depth":4,"mm":0.26},{"run":41,"depth":4.5,"mm":0.26},{"run":41,"depth":5,"mm":0.26},{"run":41,"depth":5.5,"mm":0.26},{"run":41,"depth":6,"mm":0.26},{"run":41,"depth":6.5,"mm":0.26},{"run":41,"depth":7,"mm":0.3},{"run":41,"depth":7.5,"mm":0.7},{"run":41,"depth":8,"mm":0.88},{"run":41,"depth":9,"mm":0.75},{"run":41,"depth":10,"mm":0.7},{"run":41,"depth":12,"mm":0.6},{"run":41,"depth":14,"mm":0.5},{"run":41,"depth":16,"mm":0.27},{"run":41,"depth":18,"mm":0.12},{"run":41,"depth":20,"mm":0.02}
    ],
    "may": [
      {"series":"10-May-04","depth":0.5,"mm":-11.72},{"series":"10-May-04","depth":1,"mm":-11.26},{"series":"10-May-04","depth":1.5,"mm":-10.3},{"series":"10-May-04","depth":2,"mm":-10.35},{"series":"10-May-04","depth":2.5,"mm":-10.41},{"series":"10-May-04","depth":3,"mm":-10.41},{"series":"10-May-04","depth":3.5,"mm":-10.45},{"series":"10-May-04","depth":4,"mm":-10.49},{"series":"10-May-04","depth":4.5,"mm":-10.56},{"series":"10-May-04","depth":5,"mm":-10.41},{"series":"10-May-04","depth":5.5,"mm":-10.16},{"series":"10-May-04","depth":6,"mm":-10.0},{"series":"10-May-04","depth":6.5,"mm":-10.0},{"series":"10-May-04","depth":7,"mm":-8.09},{"series":"10-May-04","depth":7.5,"mm":0.03},{"series":"10-May-04","depth":8,"mm":0.59},{"series":"10-May-04","depth":8.5,"mm":0.55},{"series":"10-May-04","depth":9,"mm":0.66},{"series":"10-May-04","depth":9.5,"mm":0.64},{"series":"10-May-04","depth":10,"mm":0.64},{"series":"10-May-04","depth":10.5,"mm":0.55},{"series":"10-May-04","depth":11,"mm":0.51},{"series":"10-May-04","depth":11.5,"mm":0.51},{"series":"10-May-04","depth":12,"mm":0.51},{"series":"10-May-04","depth":12.5,"mm":0.47},{"series":"10-May-04","depth":13,"mm":0.43},{"series":"10-May-04","depth":13.5,"mm":0.4},{"series":"10-May-04","depth":14,"mm":0.4},{"series":"10-May-04","depth":14.5,"mm":0.36},{"series":"10-May-04","depth":15,"mm":0.31},{"series":"10-May-04","depth":15.5,"mm":0.29},{"series":"10-May-04","depth":16,"mm":0.19},{"series":"10-May-04","depth":16.5,"mm":0.18},{"series":"10-May-04","depth":17,"mm":0.12},{"series":"10-May-04","depth":17.5,"mm":0.12},{"series":"10-May-04","depth":18,"mm":0.11},{"series":"10-May-04","depth":18.5,"mm":0.1},{"series":"10-May-04","depth":19,"mm":0.1},{"series":"10-May-04","depth":19.5,"mm":0.05},{"series":"10-May-04","depth":20,"mm":0.0},
      {"series":"14-May-04","depth":0.5,"mm":-12.26},{"series":"14-May-04","depth":1,"mm":-11.85},{"series":"14-May-04","depth":1.5,"mm":-10.96},{"series":"14-May-04","depth":2,"mm":-11.01},{"series":"14-May-04","depth":2.5,"mm":-11.01},{"series":"14-May-04","depth":3,"mm":-11.01},{"series":"14-May-04","depth":3.5,"mm":-11.01},{"series":"14-May-04","depth":4,"mm":-11.05},{"series":"14-May-04","depth":4.5,"mm":-11.11},{"series":"14-May-04","depth":5,"mm":-10.96},{"series":"14-May-04","depth":5.5,"mm":-10.65},{"series":"14-May-04","depth":6,"mm":-10.44},{"series":"14-May-04","depth":6.5,"mm":-10.44},{"series":"14-May-04","depth":7,"mm":-8.55},{"series":"14-May-04","depth":7.5,"mm":-0.41},{"series":"14-May-04","depth":8,"mm":0.14},{"series":"14-May-04","depth":8.5,"mm":0.12},{"series":"14-May-04","depth":9,"mm":0.25},{"series":"14-May-04","depth":9.5,"mm":0.34},{"series":"14-May-04","depth":10,"mm":0.34},{"series":"14-May-04","depth":10.5,"mm":0.26},{"series":"14-May-04","depth":11,"mm":0.21},{"series":"14-May-04","depth":11.5,"mm":0.25},{"series":"14-May-04","depth":12,"mm":0.25},{"series":"14-May-04","depth":12.5,"mm":0.19},{"series":"14-May-04","depth":13,"mm":0.15},{"series":"14-May-04","depth":13.5,"mm":0.11},{"series":"14-May-04","depth":14,"mm":0.11},{"series":"14-May-04","depth":14.5,"mm":0.11},{"series":"14-May-04","depth":15,"mm":0.05},{"series":"14-May-04","depth":15.5,"mm":0.05},{"series":"14-May-04","depth":16,"mm":0.01},{"series":"14-May-04","depth":16.5,"mm":0.01},{"series":"14-May-04","depth":17,"mm":-0.04},{"series":"14-May-04","depth":17.5,"mm":-0.05},{"series":"14-May-04","depth":18,"mm":-0.05},{"series":"14-May-04","depth":18.5,"mm":-0.06},{"series":"14-May-04","depth":19,"mm":-0.06},{"series":"14-May-04","depth":19.5,"mm":-0.1},{"series":"14-May-04","depth":20,"mm":0.0}
    ]
  },
  "resolve": {"axis": {"x": "independent", "y": "independent"}},
  "layer": [
    {
      "data": {"name": "pre"},
      "mark": {"type": "line", "color": "#231f20", "strokeWidth": 0.9},
      "encoding": {
        "x": {
          "field": "mm", "type": "quantitative",
          "scale": {"domain": [-14, 3], "nice": false, "zero": false},
          "axis": {
            "orient": "top",
            "values": [-14, -13, -12, -11, -10, -9, -8, -7, -6, -5, -4, -3, -2, -1, 0, 1, 2, 3],
            "labelExpr": "'' + datum.value",
            "title": "displacement (mm)",
            "titleFont": "Liberation Sans", "titleFontSize": 20, "titleFontWeight": "bold", "titleColor": "#231f20", "titlePadding": 20,
            "labelFont": "Liberation Sans", "labelFontSize": 19, "labelColor": "#231f20", "labelPadding": 15,
            "labelFlush": false, "labelOverlap": false,
            "tickSize": 7, "tickColor": "#231f20", "tickWidth": 1,
            "domain": false,
            "grid": true, "gridColor": "#231f20", "gridWidth": 0.9, "gridOpacity": 1
          }
        },
        "y": {
          "field": "depth", "type": "quantitative",
          "scale": {"domain": [0, 20], "reverse": true, "nice": false, "zero": false},
          "axis": {
            "orient": "left",
            "values": [0, 2, 4, 6, 8, 10, 12, 14, 16, 18, 20],
            "title": "depth below top of casing (m)",
            "titleFont": "Liberation Sans", "titleFontSize": 19.5, "titleFontWeight": "bold", "titleColor": "#231f20", "titlePadding": 14,
            "labelFont": "Liberation Sans", "labelFontSize": 19, "labelColor": "#231f20", "labelPadding": 12,
            "labelFlush": false, "labelOverlap": false,
            "tickSize": 5, "tickColor": "#231f20", "tickWidth": 1,
            "domain": false,
            "grid": true, "gridColor": "#231f20", "gridWidth": 0.9, "gridOpacity": 1
          }
        },
        "detail": {"field": "run", "type": "nominal"},
        "order": {"field": "depth", "type": "quantitative"}
      }
    },
    {
      "data": {"name": "may"},
      "mark": {"type": "line", "strokeWidth": 1.2},
      "encoding": {
        "x": {
          "field": "mm", "type": "quantitative",
          "axis": {
            "orient": "top",
            "values": [-13.5, -12.5, -11.5, -10.5, -9.5, -8.5, -7.5, -6.5, -5.5, -4.5, -3.5, -2.5, -1.5, -0.5, 0.5, 1.5, 2.5],
            "title": null, "labels": false, "grid": false, "domain": false,
            "tickSize": 4, "offset": -4, "tickColor": "#231f20", "tickWidth": 1
          }
        },
        "y": {
          "field": "depth", "type": "quantitative",
          "axis": {
            "orient": "left",
            "values": [1, 3, 5, 7, 9, 11, 13, 15, 17, 19],
            "title": null, "labels": false, "grid": false, "domain": false,
            "tickSize": 5, "tickColor": "#231f20", "tickWidth": 1
          }
        },
        "color": {
          "field": "series", "type": "nominal",
          "scale": {"domain": ["10-May-04", "14-May-04"], "range": ["#ec2227", "#00aeef"]},
          "legend": null
        },
        "order": {"field": "depth", "type": "quantitative"}
      }
    },
    {
      "data": {"name": "may"},
      "transform": [{"filter": "datum.series === '10-May-04'"}],
      "mark": {"type": "point", "shape": "diamond", "filled": true, "size": 200, "color": "#ec2227", "opacity": 1, "strokeWidth": 0},
      "encoding": {
        "x": {"field": "mm", "type": "quantitative", "axis": null},
        "y": {"field": "depth", "type": "quantitative", "axis": null}
      }
    },
    {
      "data": {"name": "may"},
      "transform": [{"filter": "datum.series === '14-May-04'"}],
      "mark": {"type": "point", "shape": "square", "filled": true, "size": 190, "color": "#00aeef", "opacity": 1, "strokeWidth": 0},
      "encoding": {
        "x": {"field": "mm", "type": "quantitative", "axis": null},
        "y": {"field": "depth", "type": "quantitative", "axis": null}
      }
    },
    {
      "data": {"name": "may"},
      "transform": [{"filter": "false"}],
      "mark": {"type": "point", "filled": true, "size": 9801, "strokeWidth": 1, "opacity": 1},
      "encoding": {
        "x": {"field": "mm", "type": "quantitative", "axis": null},
        "y": {"field": "depth", "type": "quantitative", "axis": null},
        "fill": {
          "field": "series", "type": "nominal",
          "scale": {"domain": ["pre May 04", "10-May-04", "14-May-04"], "range": ["#231f20", "#ec2227", "#00aeef"]},
          "legend": {"title": null, "orient": "none", "legendX": 60, "legendY": 1194}
        },
        "stroke": {
          "field": "series", "type": "nominal",
          "scale": {"domain": ["pre May 04", "10-May-04", "14-May-04"], "range": ["#231f20", "#ec2227", "#00aeef"]},
          "legend": {"title": null, "orient": "none", "legendX": 60, "legendY": 1194}
        },
        "shape": {
          "field": "series", "type": "nominal",
          "scale": {
            "domain": ["pre May 04", "10-May-04", "14-May-04"],
            "range": [
              "M-1,0H1M0,1.03M4.465,0",
              "M-1,0H1M-0.14,0L0,-0.14L0.14,0L0,0.14ZM0,1.03M4.465,0",
              "M-1,0H1M-0.14,-0.14H0.14V0.14H-0.14ZM0,1.03M4.465,0"
            ]
          },
          "legend": {"title": null, "orient": "none", "legendX": 60, "legendY": 1194}
        }
      }
    },
    {
      "data": {"values": [{}]},
      "mark": {"type": "rule", "color": "#231f20", "strokeWidth": 3},
      "encoding": {
        "x": {"datum": -15.4, "type": "quantitative", "axis": null},
        "x2": {"datum": -14.56},
        "y": {"datum": -0.88, "type": "quantitative", "axis": null}
      }
    },
    {
      "data": {"values": [{}]},
      "mark": {"type": "point", "shape": "M-1.19,0L1.19,-1L1.19,1Z", "filled": true, "size": 676, "color": "#231f20", "opacity": 1, "strokeWidth": 0},
      "encoding": {
        "x": {"datum": -15.475, "type": "quantitative", "axis": null},
        "y": {"datum": -0.88, "type": "quantitative", "axis": null}
      }
    },
    {
      "data": {"values": [{}]},
      "mark": {"type": "rule", "color": "#231f20", "strokeWidth": 3},
      "encoding": {
        "x": {"datum": 3.49, "type": "quantitative", "axis": null},
        "x2": {"datum": 4.45},
        "y": {"datum": -0.88, "type": "quantitative", "axis": null}
      }
    },
    {
      "data": {"values": [{}]},
      "mark": {"type": "point", "shape": "M1.19,0L-1.19,-1L-1.19,1Z", "filled": true, "size": 676, "color": "#231f20", "opacity": 1, "strokeWidth": 0},
      "encoding": {
        "x": {"datum": 4.513, "type": "quantitative", "axis": null},
        "y": {"datum": -0.88, "type": "quantitative", "axis": null}
      }
    },
    {
      "data": {"values": [{}]},
      "mark": {"type": "text", "text": "Downslope", "font": "Liberation Sans", "fontSize": 23, "fontWeight": "bold", "color": "#231f20", "align": "center", "baseline": "middle"},
      "encoding": {
        "x": {"datum": -12.77, "type": "quantitative", "axis": null},
        "y": {"datum": -0.88, "type": "quantitative", "axis": null}
      }
    },
    {
      "data": {"values": [{}]},
      "mark": {"type": "text", "text": "upslope", "font": "Liberation Sans", "fontSize": 23, "fontWeight": "bold", "color": "#231f20", "align": "center", "baseline": "middle"},
      "encoding": {
        "x": {"datum": 2.22, "type": "quantitative", "axis": null},
        "y": {"datum": -0.88, "type": "quantitative", "axis": null}
      }
    },
    {
      "data": {"values": [{}]},
      "mark": {"type": "text", "text": "© Geotechnical Observations Limited 2000-2004. All rights reserved.", "font": "DejaVu Sans", "fontSize": 18.5, "color": "#231f20", "angle": 270, "align": "left", "baseline": "middle"},
      "encoding": {
        "x": {"datum": 3.32, "type": "quantitative", "axis": null},
        "y": {"datum": 19.97, "type": "quantitative", "axis": null}
      }
    }
  ]
}
